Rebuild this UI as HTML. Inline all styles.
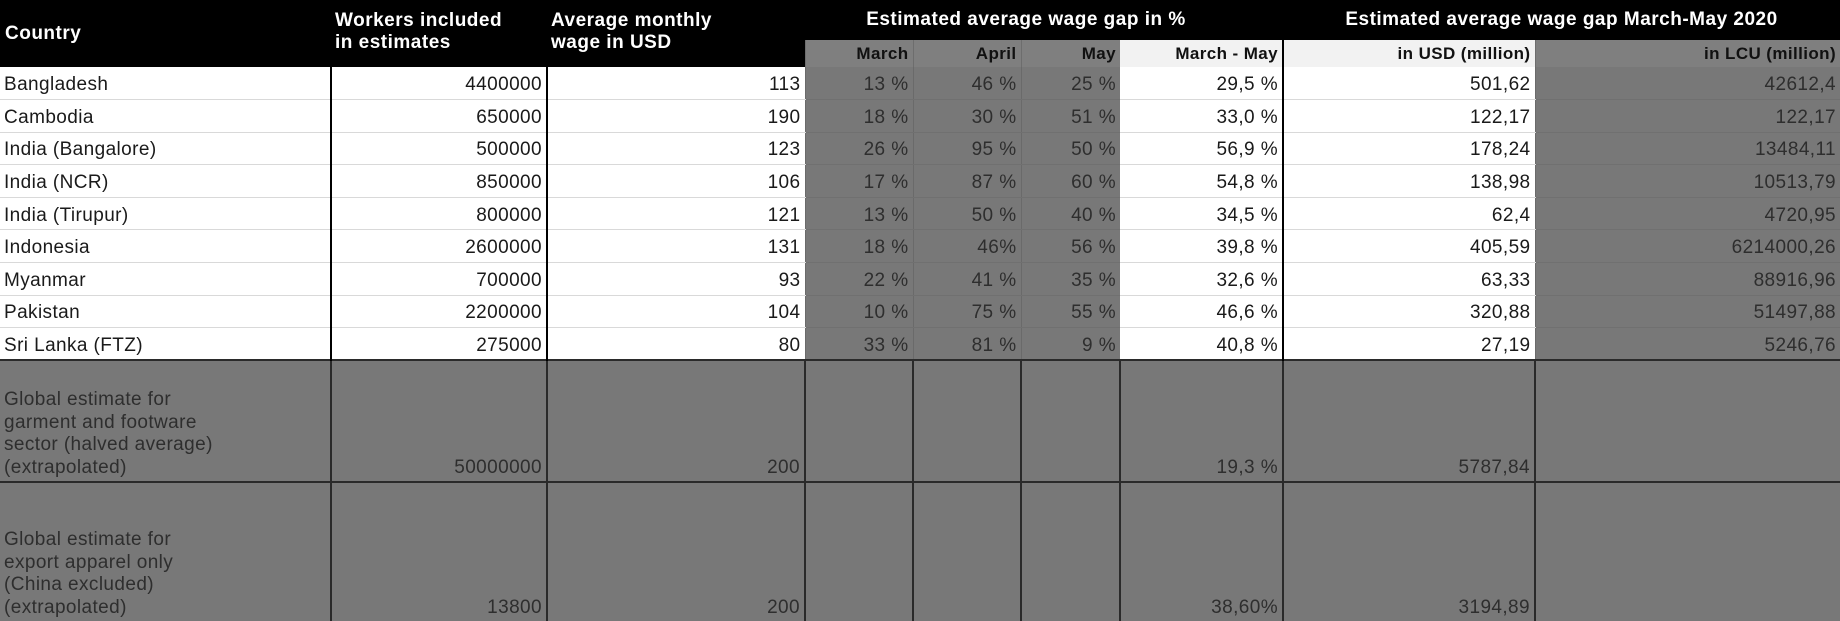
<!DOCTYPE html>
<html><head><meta charset="utf-8"><style>
html,body{margin:0;padding:0;background:#787878;}
body{width:1840px;height:621px;overflow:hidden;font-family:"Liberation Sans",sans-serif;}
table{border-collapse:collapse;table-layout:fixed;width:1840px;position:absolute;left:0;top:0;}
td{padding:0 4px;font-size:19px;color:#1a1a1a;white-space:nowrap;overflow:hidden;letter-spacing:0.4px;}
.h{background:#000;color:#fff;font-weight:bold;font-size:19px;letter-spacing:0.5px;}
.sub{background:#7f7f7f;color:#111;font-weight:bold;font-size:17px;text-align:right;border-left:1px solid #6d6d6d;}
.subw{background:#f2f2f2;color:#111;font-weight:bold;font-size:17px;text-align:right;}
tr.d{height:32.6px;}
tr.d td{border-bottom:1px solid #d9d9d9;padding-top:4px;}
.w{background:#fff;}
.g{background:#787878;color:#2e2e2e;border-left:1px solid #6a6a6a;}
tr.d td.g{border-bottom:1px solid #707070;}
.r{text-align:right;}
.bl{border-left:2px solid #000 !important;}
tr.gl td{background:#787878;color:#2e2e2e;vertical-align:bottom;text-align:right;border-left:2px solid #2a2a2a;border-top:2px solid #2a2a2a;padding-bottom:2px;line-height:22.5px;}
tr.gl td.c{text-align:left;border-left:none;}
</style></head><body>
<table>
<colgroup><col style="width:331px"><col style="width:216px"><col style="width:258px"><col style="width:108px"><col style="width:108px"><col style="width:99px"><col style="width:163px"><col style="width:252px"><col style="width:305px"></colgroup>
<tr style="height:40px">
<td class="h" rowspan="2" style="vertical-align:middle;padding-left:5px">Country</td>
<td class="h" rowspan="2" style="vertical-align:top;padding-top:10px;line-height:22px">Workers included<br>in estimates</td>
<td class="h" rowspan="2" style="vertical-align:top;padding-top:10px;line-height:22px">Average monthly<br>wage in USD</td>
<td class="h" colspan="4" style="text-align:center;padding-right:40px">Estimated average wage gap in %</td>
<td class="h" colspan="2" style="text-align:center">Estimated average wage gap March-May 2020</td>
</tr>
<tr style="height:27px">
<td class="sub">March</td><td class="sub">April</td><td class="sub">May</td><td class="subw">March - May</td><td class="subw bl">in USD (million)</td><td class="sub">in LCU (million)</td>
</tr>
<tr class="d"><td class="w">Bangladesh</td><td class="w r bl">4400000</td><td class="w r bl">113</td><td class="g r">13 %</td><td class="g r">46 %</td><td class="g r">25 %</td><td class="w r">29,5 %</td><td class="w r bl">501,62</td><td class="g r">42612,4</td></tr>
<tr class="d"><td class="w">Cambodia</td><td class="w r bl">650000</td><td class="w r bl">190</td><td class="g r">18 %</td><td class="g r">30 %</td><td class="g r">51 %</td><td class="w r">33,0 %</td><td class="w r bl">122,17</td><td class="g r">122,17</td></tr>
<tr class="d"><td class="w">India (Bangalore)</td><td class="w r bl">500000</td><td class="w r bl">123</td><td class="g r">26 %</td><td class="g r">95 %</td><td class="g r">50 %</td><td class="w r">56,9 %</td><td class="w r bl">178,24</td><td class="g r">13484,11</td></tr>
<tr class="d"><td class="w">India (NCR)</td><td class="w r bl">850000</td><td class="w r bl">106</td><td class="g r">17 %</td><td class="g r">87 %</td><td class="g r">60 %</td><td class="w r">54,8 %</td><td class="w r bl">138,98</td><td class="g r">10513,79</td></tr>
<tr class="d"><td class="w">India (Tirupur)</td><td class="w r bl">800000</td><td class="w r bl">121</td><td class="g r">13 %</td><td class="g r">50 %</td><td class="g r">40 %</td><td class="w r">34,5 %</td><td class="w r bl">62,4</td><td class="g r">4720,95</td></tr>
<tr class="d"><td class="w">Indonesia</td><td class="w r bl">2600000</td><td class="w r bl">131</td><td class="g r">18 %</td><td class="g r">46%</td><td class="g r">56 %</td><td class="w r">39,8 %</td><td class="w r bl">405,59</td><td class="g r">6214000,26</td></tr>
<tr class="d"><td class="w">Myanmar</td><td class="w r bl">700000</td><td class="w r bl">93</td><td class="g r">22 %</td><td class="g r">41 %</td><td class="g r">35 %</td><td class="w r">32,6 %</td><td class="w r bl">63,33</td><td class="g r">88916,96</td></tr>
<tr class="d"><td class="w">Pakistan</td><td class="w r bl">2200000</td><td class="w r bl">104</td><td class="g r">10 %</td><td class="g r">75 %</td><td class="g r">55 %</td><td class="w r">46,6 %</td><td class="w r bl">320,88</td><td class="g r">51497,88</td></tr>
<tr class="d"><td class="w">Sri Lanka (FTZ)</td><td class="w r bl">275000</td><td class="w r bl">80</td><td class="g r">33 %</td><td class="g r">81 %</td><td class="g r">9 %</td><td class="w r">40,8 %</td><td class="w r bl">27,19</td><td class="g r">5246,76</td></tr>
<tr class="gl" style="height:122px"><td class="c">Global estimate for<br>garment and footware<br>sector (halved average)<br>(extrapolated)</td><td>50000000</td><td>200</td><td></td><td></td><td></td><td>19,3 %</td><td>5787,84</td><td></td></tr>
<tr class="gl" style="height:139px"><td class="c">Global estimate for<br>export apparel only<br>(China excluded)<br>(extrapolated)</td><td>13800</td><td>200</td><td></td><td></td><td></td><td>38,60%</td><td>3194,89</td><td></td></tr>
</table>
</body></html>
